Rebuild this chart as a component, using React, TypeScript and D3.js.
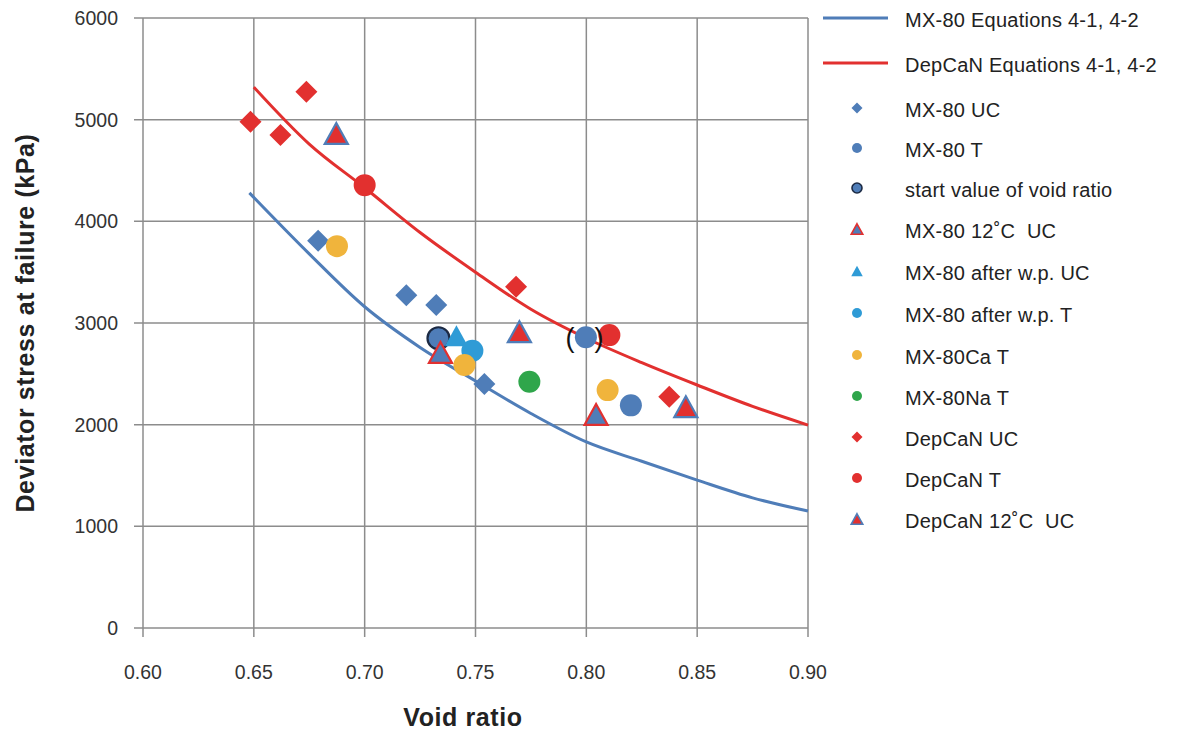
import React from "react";
import * as d3 from "d3";

const W = 1178;
const H = 731;

// Axis ticks
const xTicks = [0.6, 0.65, 0.7, 0.75, 0.8, 0.85, 0.9];
const yTicks = [0, 1000, 2000, 3000, 4000, 5000, 6000];

// Equation curves
const mx80EqX = [0.648, 0.675, 0.7, 0.725, 0.75, 0.775, 0.8, 0.825, 0.85, 0.875, 0.9];
const mx80EqY = [4280, 3680, 3160, 2760, 2430, 2110, 1830, 1640, 1455, 1280, 1150];
const depEqX = [0.65, 0.675, 0.7, 0.725, 0.75, 0.775, 0.8, 0.825, 0.85, 0.875, 0.9];
const depEqY = [5320, 4760, 4330, 3890, 3500, 3135, 2850, 2610, 2390, 2180, 1996];

// Measured points
const mx80UCX = [0.679, 0.7188, 0.7323, 0.754];
const mx80UCY = [3810, 3274, 3176, 2400];
const mx80TX = [0.7998, 0.8201];
const mx80TY = [2860, 2190];
const startX = [0.7333];
const startY = [2850];
const mx8012CX = [0.7342, 0.8044];
const mx8012CY = [2710, 2100];
const afterWpUCX = [0.7414];
const afterWpUCY = [2875];
const afterWpTX = [0.7486];
const afterWpTY = [2727];
const caTX = [0.6875, 0.745, 0.8096];
const caTY = [3756, 2586, 2340];
const naTX = [0.7743];
const naTY = [2422];
const depUCX = [0.6485, 0.662, 0.6737, 0.7683, 0.8374];
const depUCY = [4979, 4848, 5274, 3356, 2274];
const depTX = [0.7, 0.8104];
const depTY = [4356, 2881];
const dep12CX = [0.6872, 0.7698, 0.8449];
const dep12CY = [4864, 2914, 2176];

const BLUE = "#4F7DB8";
const RED = "#E2302F";
const LBLUE = "#2F9BD6";
const ORANGE = "#F0B43C";
const GREEN = "#2FA64B";
const NAVY = "#1C2A44";
const GRID = "#8C8C8C";

type Shape = "diamond" | "circle" | "triangle";
interface Series {
  name: string;
  xs: number[];
  ys: number[];
  shape: Shape;
  fill: string;
  stroke?: string;
}

const series: Series[] = [
  { name: "MX-80 UC", xs: mx80UCX, ys: mx80UCY, shape: "diamond", fill: BLUE },
  { name: "MX-80 T", xs: mx80TX, ys: mx80TY, shape: "circle", fill: BLUE },
  { name: "start value of void ratio", xs: startX, ys: startY, shape: "circle", fill: BLUE, stroke: NAVY },
  { name: "MX-80 12˚C  UC", xs: mx8012CX, ys: mx8012CY, shape: "triangle", fill: BLUE, stroke: RED },
  { name: "MX-80 after w.p. UC", xs: afterWpUCX, ys: afterWpUCY, shape: "triangle", fill: LBLUE },
  { name: "MX-80 after w.p. T", xs: afterWpTX, ys: afterWpTY, shape: "circle", fill: LBLUE },
  { name: "MX-80Ca T", xs: caTX, ys: caTY, shape: "circle", fill: ORANGE },
  { name: "MX-80Na T", xs: naTX, ys: naTY, shape: "circle", fill: GREEN },
  { name: "DepCaN UC", xs: depUCX, ys: depUCY, shape: "diamond", fill: RED },
  { name: "DepCaN T", xs: depTX, ys: depTY, shape: "circle", fill: RED },
  { name: "DepCaN 12˚C  UC", xs: dep12CX, ys: dep12CY, shape: "triangle", fill: RED, stroke: BLUE },
];

const lines = [
  { name: "MX-80 Equations 4-1, 4-2", xs: mx80EqX, ys: mx80EqY, color: BLUE },
  { name: "DepCaN Equations 4-1, 4-2", xs: depEqX, ys: depEqY, color: RED },
];

function markerPath(shape: Shape, cx: number, cy: number, s: number): string {
  if (shape === "diamond") {
    return `M${cx},${cy - s}L${cx + s},${cy}L${cx},${cy + s}L${cx - s},${cy}Z`;
  }
  if (shape === "triangle") {
    const hw = s * 1.05;
    const hh = s * 0.95;
    return `M${cx},${cy - hh}L${cx + hw},${cy + hh}L${cx - hw},${cy + hh}Z`;
  }
  const p = d3.path();
  p.arc(cx, cy, s, 0, Math.PI * 2);
  p.closePath();
  return p.toString();
}

const FONT = "'Liberation Sans', Arial, Helvetica, sans-serif";

export default function App() {
  const left = 143;
  const right = 808;
  const top = 18;
  const bottom = 628;
  const x = d3.scaleLinear().domain([0.6, 0.9]).range([left, right]);
  const y = d3.scaleLinear().domain([0, 6000]).range([bottom, top]);

  const lineGen = d3
    .line<[number, number]>()
    .x((d) => x(d[0]))
    .y((d) => y(d[1]))
    .curve(d3.curveMonotoneX);

  const legendX = 823;
  const legendTextX = 905;
  const legendRows = [20, 65, 110, 150, 190, 231, 273, 315, 357, 398, 439, 480, 521];

  return (
    <svg
      width={W}
      height={H}
      style={{ position: "absolute", left: 0, top: 0, background: "#fff" }}
      fontFamily={FONT}
    >
      <rect x={0} y={0} width={W} height={H} fill="#fff" />
      {/* grid */}
      {yTicks.map((t) => (
        <line key={"gy" + t} x1={left - 9} x2={right} y1={y(t)} y2={y(t)} stroke={GRID} strokeWidth={1.5} />
      ))}
      {xTicks.map((t) => (
        <line key={"gx" + t} x1={x(t)} x2={x(t)} y1={top} y2={bottom + 9} stroke={GRID} strokeWidth={1.5} />
      ))}
      {/* tick labels */}
      {yTicks.map((t) => (
        <text key={"ly" + t} x={left - 25} y={y(t)} dy="0.36em" textAnchor="end" fontSize={19.5} fill="#333">
          {t}
        </text>
      ))}
      {xTicks.map((t) => (
        <text key={"lx" + t} x={x(t)} y={bottom + 51} textAnchor="middle" fontSize={19.5} fill="#333">
          {d3.format(".2f")(t)}
        </text>
      ))}
      {/* axis titles */}
      <text
        transform={`translate(34,${(top + bottom) / 2}) rotate(-90)`}
        textAnchor="middle"
        fontSize={25}
        fontWeight="bold"
        letterSpacing={0.6}
        fill="#222"
      >
        Deviator stress at failure (kPa)
      </text>
      <text x={463} y={726} textAnchor="middle" fontSize={25} fontWeight="bold" letterSpacing={0.6} fill="#222">
        Void ratio
      </text>
      {/* curves */}
      {lines.map((l) => (
        <path
          key={l.name}
          d={lineGen(l.xs.map((v, i) => [v, l.ys[i]] as [number, number])) || ""}
          fill="none"
          stroke={l.color}
          strokeWidth={3}
        />
      ))}
      {/* points */}
      {series.map((s) =>
        s.xs.map((v, i) => (
          <path
            key={s.name + i}
            d={markerPath(s.shape, x(v), y(s.ys[i]), 11)}
            fill={s.fill}
            stroke={s.stroke || "none"}
            strokeWidth={s.stroke ? 2.2 : 0}
          />
        ))
      )}
      {/* parentheses around questionable point */}
      <text x={x(mx80TX[0]) - 16} y={y(mx80TY[0])} dy="0.35em" textAnchor="middle" fontSize={27} fill="#111">
        (
      </text>
      <text x={x(mx80TX[0]) + 13} y={y(mx80TY[0])} dy="0.35em" textAnchor="middle" fontSize={27} fill="#111">
        )
      </text>
      {/* legend */}
      {lines.map((l, i) => (
        <g key={"leg" + l.name}>
          <line x1={legendX} x2={legendX + 65} y1={legendRows[i] - 2} y2={legendRows[i] - 2} stroke={l.color} strokeWidth={3} />
          <text x={legendTextX} y={legendRows[i]} dy="0.35em" fontSize={20} letterSpacing={0.25} fill="#222">
            {l.name}
          </text>
        </g>
      ))}
      {series.map((s, i) => {
        const ry = legendRows[i + 2];
        return (
          <g key={"legs" + s.name}>
            <path
              d={markerPath(s.shape, legendX + 34, ry - 2, s.shape === "circle" ? 5 : 5.5)}
              fill={s.fill}
              stroke={s.stroke || "none"}
              strokeWidth={s.stroke ? 1.6 : 0}
            />
            <text
              x={legendTextX}
              y={ry}
              dy="0.35em"
              fontSize={20}
              letterSpacing={0.25}
              fill="#222"
              style={{ whiteSpace: "pre" }}
            >
              {s.name}
            </text>
          </g>
        );
      })}
    </svg>
  );
}
